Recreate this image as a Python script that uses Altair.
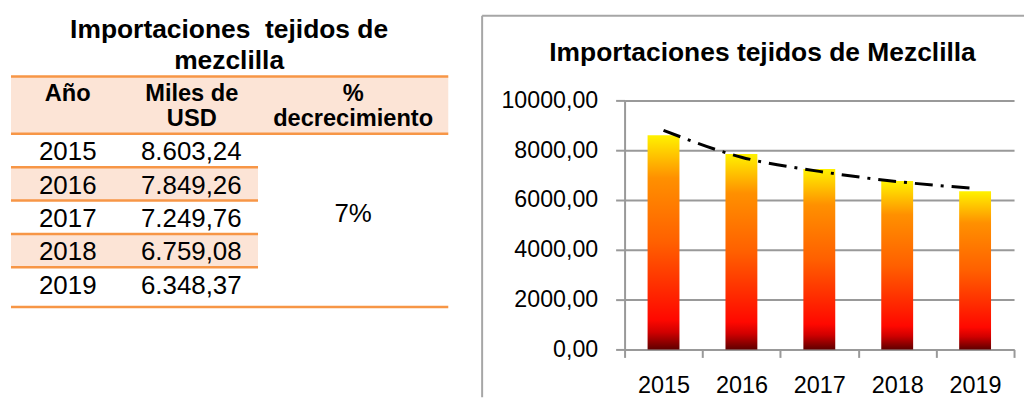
import altair as alt
import pandas as pd

# ---------------- data ----------------
years = ["2015", "2016", "2017", "2018", "2019"]
imports_usd = [8603.24, 7849.26, 7249.76, 6759.08, 6348.37]
imports_text = ["8.603,24", "7.849,26", "7.249,76", "6.759,08", "6.348,37"]
trend_values = [8800, 7720, 7150, 6740, 6470]
y_tick_values = [0, 2000, 4000, 6000, 8000, 10000]
decrease_text = "7%"
table_title_lines = ["Importaciones \u00a0tejidos de", "mezclilla"]
header_year = ["Año"]
header_value = ["Miles de", "USD"]
header_pct = ["%", "decrecimiento"]
chart_title = "Importaciones tejidos de Mezclilla"

# ---------------- styles ----------------
FONT = "Liberation Sans"
ORANGE = "#F79646"
PEACH = "#FCE4D6"
GRAY = "#999999"
BORDER = "#A6A6A6"
SHIFT = -86  # table layout offset relative to the shared plot top

df = pd.DataFrame({
    "year": years,
    "value": imports_usd,
    "label": imports_text,
    "trend": trend_values,
    "idx": list(range(len(years))),
})
one = pd.DataFrame({"k": [0]})

# ---------------- left panel: table ----------------
row_scale = alt.Scale(domain=[0, 5], range=[119.5 + SHIFT, 287 + SHIFT])
row_y = alt.Y("idx:Q", scale=row_scale, axis=None)

def txt(text, x, y, size=26, bold=False):
    return alt.Chart(one).mark_text(
        font=FONT, fontSize=size, fontWeight="bold" if bold else "normal",
        align="center", baseline="alphabetic", color="black"
    ).encode(x=alt.value(x), y=alt.value(y + SHIFT), text=alt.value(text))

def hline(y, x2):
    return alt.Chart(one).mark_rule(color=ORANGE, strokeWidth=2.5).encode(
        x=alt.value(0), x2=alt.value(x2), y=alt.value(y + SHIFT))

header_fill = alt.Chart(one).mark_rect(color=PEACH).encode(
    x=alt.value(0), x2=alt.value(439), y=alt.value(62 + SHIFT), y2=alt.value(119.5 + SHIFT))

row_fills = alt.Chart(df).transform_filter("datum.idx % 2 == 1").transform_calculate(
    idx2="datum.idx + 1").mark_rect(color=PEACH).encode(
    x=alt.value(0), x2=alt.value(248), y=row_y, y2="idx2:Q")

line_rows = alt.Chart(df).transform_filter("datum.idx >= 1").mark_rule(
    color=ORANGE, strokeWidth=2.5).encode(x=alt.value(0), x2=alt.value(248), y=row_y)

year_text = alt.Chart(df).mark_text(
    font=FONT, fontSize=26, align="center", baseline="alphabetic", dy=26.5, color="black"
).encode(x=alt.value(57), y=row_y, text="year:N")
value_text = alt.Chart(df).mark_text(
    font=FONT, fontSize=26, align="center", baseline="alphabetic", dy=26.5, color="black"
).encode(x=alt.value(181), y=row_y, text="label:N")

left = alt.layer(
    header_fill, row_fills,
    hline(62, 439), hline(119.5, 439), line_rows, hline(293.3, 439),
    txt(table_title_lines[0], 219, 23.3, 26.5, True),
    txt(table_title_lines[1], 219, 54.3, 26.5, True),
    txt(header_year[0], 57, 86.7, 23.7, True),
    txt(header_value[0], 181.5, 86.7, 23.7, True),
    txt(header_value[1], 181.5, 112, 23.7, True),
    txt(header_pct[0], 343.5, 86.7, 23.7, True),
    txt(header_pct[1], 343.5, 111.5, 23.7, True),
    year_text, value_text,
    txt(decrease_text, 343.5, 207.7, 26),
).properties(width=440, height=250)

# ---------------- right panel: bar chart ----------------
x_axis = alt.Axis(
    title=None, labelFont=FONT, labelFontSize=23.5, labelColor="black", labelAngle=0,
    labelPadding=16, tickSize=8, tickColor=GRAY, tickWidth=2, tickBand="extent",
    domainColor=GRAY, domainWidth=2, grid=False)
y_axis = alt.Axis(
    title=None, values=y_tick_values,
    labelExpr="replace(format(datum.value, '.2f'), '.', ',')",
    labelFont=FONT, labelFontSize=23.3, labelColor="black", labelPadding=18,
    tickSize=9, tickColor=GRAY, tickWidth=2, domainColor=GRAY, domainWidth=2,
    gridColor=GRAY, gridWidth=2)
x_scale = alt.Scale(paddingInner=0, paddingOuter=0)
y_scale = alt.Scale(domain=[0, 10000])

fire = alt.Gradient(
    gradient="linear", x1=0, x2=0, y1=0, y2=1,
    stops=[
        alt.GradientStop(color="#FFF200", offset=0),
        alt.GradientStop(color="#FF9000", offset=0.2),
        alt.GradientStop(color="#FF6000", offset=0.5),
        alt.GradientStop(color="#FF0800", offset=0.86),
        alt.GradientStop(color="#D00000", offset=0.92),
        alt.GradientStop(color="#600000", offset=1),
    ])

bars = alt.Chart(df).mark_bar(size=32, fill=fire).encode(
    x=alt.X("year:O", scale=x_scale, axis=x_axis),
    y=alt.Y("value:Q", scale=y_scale, axis=y_axis),
)
trend = alt.Chart(df).mark_line(
    color="black", strokeWidth=3, strokeDash=[18, 8, 3, 8], interpolate="monotone"
).encode(
    x=alt.X("year:O", scale=x_scale, axis=x_axis),
    y=alt.Y("trend:Q", scale=y_scale, axis=y_axis),
)
border_top = alt.Chart(one).mark_rule(color=BORDER, strokeWidth=2).encode(
    x=alt.value(-143), x2=alt.value(401), y=alt.value(-85))
border_left = alt.Chart(one).mark_rule(color=BORDER, strokeWidth=2).encode(
    x=alt.value(-143), y=alt.value(-85), y2=alt.value(298))
title = alt.Chart(one).mark_text(
    font=FONT, fontSize=26.5, fontWeight="bold", align="center",
    baseline="alphabetic", color="black"
).encode(x=alt.value(138.5), y=alt.value(-39.3), text=alt.value(chart_title))

right = alt.layer(border_top, border_left, title, bars, trend).properties(
    width=391, height=250)

chart = alt.hconcat(left, right, spacing=31).properties(
    padding={"left": 1, "top": 6, "right": 0, "bottom": 0}
).configure_view(strokeWidth=0)

chart.save("out.html", embed_options={"renderer": "svg", "actions": False})
